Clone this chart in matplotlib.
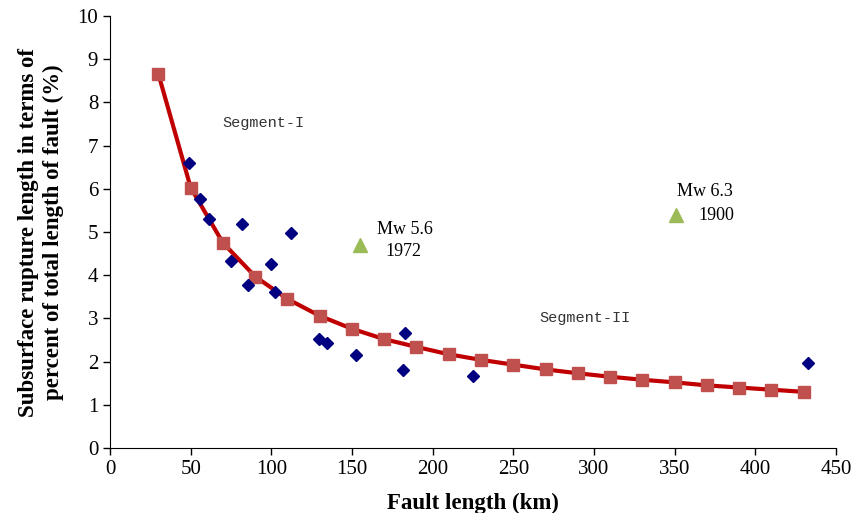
import matplotlib
matplotlib.use("Agg")
import matplotlib.pyplot as plt

# Fitted curve (red squares)
fit_x = [30, 50, 70, 90, 110, 130, 150, 170, 190, 210, 230, 250, 270, 290, 310, 330, 350, 370, 390, 410, 430]
fit_y = [8.66, 6.03, 4.75, 3.97, 3.45, 3.06, 2.76, 2.52, 2.34, 2.17, 2.04, 1.93, 1.82, 1.73, 1.65, 1.58, 1.52, 1.45, 1.40, 1.35, 1.30]

# Observed data (blue diamonds)
obs_x = [48.8, 56, 61.2, 74.8, 82, 85.8, 100, 102.5, 112.2, 129.8, 134.3, 152.5, 181.6, 182.9, 225.2, 432.9]
obs_y = [6.60, 5.77, 5.30, 4.33, 5.18, 3.78, 4.25, 3.62, 4.98, 2.52, 2.42, 2.15, 1.80, 2.67, 1.67, 1.96]

# Historical events (green triangles)
eq_x = [155.2, 350.7]
eq_y = [4.70, 5.39]

plt.rcParams['font.family'] = ['Liberation Serif', 'DejaVu Serif']

fig = plt.figure(figsize=(8.56, 5.13), dpi=100)
ax = fig.add_axes([0.1285, 0.1267, 0.848, 0.842])

ax.plot(fit_x, fit_y, color='#C00000', linewidth=3, zorder=2)
ax.plot(fit_x, fit_y, linestyle='none', marker='s', markersize=8,
        color='#C0504D', zorder=3)
ax.plot(obs_x, obs_y, linestyle='none', marker='D', markersize=6,
        color='#000080', zorder=4)
ax.plot(eq_x, eq_y, linestyle='none', marker='^', markersize=10,
        color='#9BBB59', zorder=4)

# segment labels and event annotations
ax.text(95, 7.52, 'Segment-I', family='Liberation Mono', fontsize=11,
        ha='center', va='center', color='#333333')
ax.text(294.5, 3.02, 'Segment-II', family='Liberation Mono', fontsize=11,
        ha='center', va='center', color='#333333')
ax.text(165.5, 5.07, 'Mw 5.6', fontsize=13, ha='left', va='center')
ax.text(170.5, 4.54, '1972', fontsize=13, ha='left', va='center')
ax.text(369, 5.93, 'Mw 6.3', fontsize=13, ha='center', va='center')
ax.text(376, 5.38, '1900', fontsize=13, ha='center', va='center')

ax.set_xlim(0, 450)
ax.set_ylim(0, 10)
ax.set_xticks(range(0, 451, 50))
ax.set_yticks(range(0, 11, 1))
ax.tick_params(axis='both', labelsize=15, direction='out', length=5, width=1)
ax.spines['top'].set_visible(False)
ax.spines['right'].set_visible(False)

ax.set_xlabel('Fault length (km)', fontsize=16.5, fontweight='bold', labelpad=10)
ax.set_ylabel('Subsurface rupture length in terms of\npercent of total length of fault (%)',
              fontsize=16.5, fontweight='bold', labelpad=10)

fig.savefig('out.png', dpi=100)
